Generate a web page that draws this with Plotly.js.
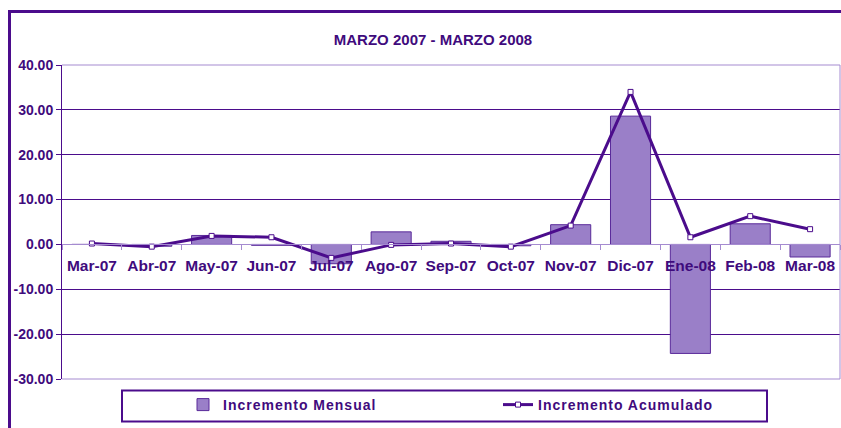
<!DOCTYPE html>
<html>
<head>
<meta charset="utf-8">
<script src="https://cdn.plot.ly/plotly-3.0.1.min.js"></script>
<style>
  html, body { margin: 0; padding: 0; background: #fff; overflow: hidden; }
  #chart { width: 841px; height: 428px; }
  .legendtext { letter-spacing: 1px; }
</style>
</head>
<body>
<div id="chart"></div>
<script>
// months shown on the category axis
const months = ['Mar-07', 'Abr-07', 'May-07', 'Jun-07', 'Jul-07', 'Ago-07', 'Sep-07',
  'Oct-07', 'Nov-07', 'Dic-07', 'Ene-08', 'Feb-08', 'Mar-08'];

// monthly increment (bars)
const incrementoMensual = [0.0, -0.4, 2.0, -0.2, -4.3, 2.8, 0.7, -0.3, 4.4, 28.6, -24.3, 4.6, -2.8];

// accumulated increment (line)
const incrementoAcumulado = [0.2, -0.5, 1.9, 1.6, -3.0, -0.1, 0.2, -0.5, 4.2, 34.0, 1.6, 6.3, 3.4];

// y axis ticks, written the way the original shows them
const yTickVals = [40, 30, 20, 10, 0, -10, -20, -30];
const yTickText = ['40.00', '30.00', '20.00', '10.00', '0.00', '-10.00', '-20.00', '-30.00'];

const DARK = '#4B0C8C';
const TEXT = '#3F0B7D';
const LIGHT = '#A58BD0';

const traceMensual = {
  x: months,
  y: incrementoMensual,
  name: 'Incremento Mensual',
  type: 'bar',
  width: 0.67,
  marker: { color: '#9A7FC8', line: { color: '#5A2A9A', width: 1 } },
  hoverinfo: 'skip'
};

const traceAcumulado = {
  x: months,
  y: incrementoAcumulado,
  name: 'Incremento Acumulado',
  type: 'scatter',
  mode: 'lines+markers',
  line: { color: DARK, width: 3 },
  marker: { symbol: 'square', size: 5, color: '#fff', line: { color: DARK, width: 1 } },
  hoverinfo: 'skip'
};

// plot area in pixels: left 62, right 840, top 65, bottom 379
const L = 62, R = 840, T = 65, B = 379;
const px = v => (v - L) / (R - L);
const py = v => (B - v) / (B - T);

const layout = {
  width: 841,
  height: 428,
  margin: { l: L, r: 841 - R, t: T, b: 428 - B, autoexpand: false },
  paper_bgcolor: '#fff',
  plot_bgcolor: '#fff',
  font: { family: '"Liberation Sans", Arial, sans-serif', color: TEXT },
  title: {
    text: '<b>MARZO 2007 - MARZO 2008</b>',
    font: { size: 15, color: TEXT },
    xref: 'container', x: 433 / 841, xanchor: 'center',
    y: 1 - 40 / 428, yanchor: 'middle'
  },
  showlegend: true,
  legend: {
    orientation: 'h',
    xref: 'container', yref: 'container',
    x: 183 / 841, xanchor: 'left',
    y: 1 - 405 / 428, yanchor: 'middle',
    entrywidth: 270, entrywidthmode: 'pixels',
    font: { size: 14, color: TEXT, weight: 'bold' },
    bgcolor: 'rgba(0,0,0,0)',
    traceorder: 'normal'
  },
  xaxis: {
    type: 'category',
    range: [-0.5, months.length - 0.5],
    anchor: 'free',
    position: 3 / 7,
    layer: 'above traces',
    showline: true,
    linecolor: LIGHT,
    linewidth: 1,
    showgrid: false,
    zeroline: false,
    ticks: 'outside',
    tickson: 'boundaries',
    ticklen: 5,
    tickcolor: LIGHT,
    tickangle: 0,
    ticklabelstandoff: 7,
    tickfont: { size: 15.5, color: TEXT, weight: 'bold' },
    fixedrange: true
  },
  yaxis: {
    range: [-30, 40],
    tickvals: yTickVals,
    ticktext: yTickText,
    showline: true,
    linecolor: DARK,
    linewidth: 1,
    ticks: 'outside',
    ticklen: 5,
    tickcolor: DARK,
    gridcolor: DARK,
    gridwidth: 1,
    zeroline: false,
    tickfont: { size: 14, color: TEXT, weight: 'bold' },
    fixedrange: true
  },
  bargap: 0.33,
  shapes: [
    // light plot-area frame (top, right, bottom)
    { type: 'line', xref: 'paper', yref: 'paper', x0: 0, x1: 1, y0: 1, y1: 1, line: { color: LIGHT, width: 1 }, layer: 'above' },
    { type: 'line', xref: 'paper', yref: 'paper', x0: 1, x1: 1, y0: 0, y1: 1, line: { color: LIGHT, width: 1 }, layer: 'above' },
    { type: 'line', xref: 'paper', yref: 'paper', x0: 0, x1: 1, y0: 0, y1: 0, line: { color: LIGHT, width: 1 }, layer: 'above' },
    // legend frame
    { type: 'rect', xref: 'paper', yref: 'paper', x0: px(122), x1: px(767), y0: py(421.5), y1: py(390.5), line: { color: DARK, width: 2 }, fillcolor: 'rgba(0,0,0,0)' },
    // outer chart frame
    { type: 'rect', xref: 'paper', yref: 'paper', x0: px(9.5), x1: px(900), y0: py(600), y1: py(11.5), line: { color: DARK, width: 3 }, fillcolor: 'rgba(0,0,0,0)' }
  ]
};

Plotly.newPlot('chart', [traceMensual, traceAcumulado], layout, { displayModeBar: false, staticPlot: true });
</script>
</body>
</html>
